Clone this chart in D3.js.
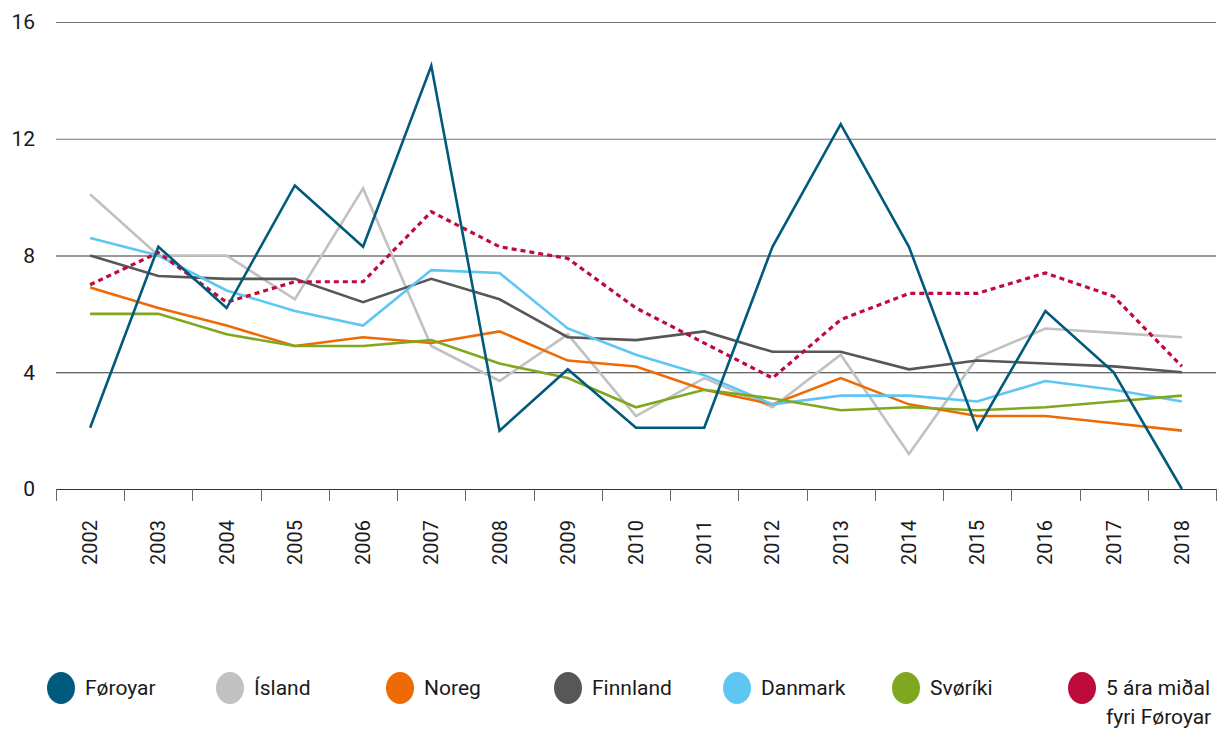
<!DOCTYPE html>
<html>
<head>
<meta charset="utf-8">
<script src="https://cdn.jsdelivr.net/npm/d3@7"></script>
<style>
  body { margin: 0; background: #fff; }
  text { font-family: Roboto, "Noto Sans", sans-serif; fill: #1a1a1a; }
</style>
</head>
<body>
<script>
// data
var years = ["2002","2003","2004","2005","2006","2007","2008","2009","2010","2011","2012","2013","2014","2015","2016","2017","2018"]
var foroyar  = [2.1, 8.3, 6.2, 10.4, 8.3, 14.5, 2.0, 4.1, 2.1, 2.1, 8.3, 12.5, 8.3, 2.05, 6.1, 4.0, 0]
var island   = [10.1, 8.0, 8.0, 6.5, 10.3, 4.9, 3.7, 5.3, 2.5, 3.8, 2.8, 4.6, 1.2, 4.5, 5.5, 5.35, 5.2]
var noreg    = [6.9, 6.2, 5.6, 4.9, 5.2, 5.0, 5.4, 4.4, 4.2, 3.4, 2.9, 3.8, 2.9, 2.5, 2.5, 2.25, 2.0]
var finnland = [8.0, 7.3, 7.2, 7.2, 6.4, 7.2, 6.5, 5.2, 5.1, 5.4, 4.7, 4.7, 4.1, 4.4, 4.3, 4.2, 4.0]
var danmark  = [8.6, 8.0, 6.8, 6.1, 5.6, 7.5, 7.4, 5.5, 4.6, 3.9, 2.9, 3.2, 3.2, 3.0, 3.7, 3.4, 3.0]
var svoriki  = [6.0, 6.0, 5.3, 4.9, 4.9, 5.1, 4.3, 3.8, 2.8, 3.4, 3.1, 2.7, 2.8, 2.7, 2.8, 3.0, 3.2]
var midal    = [7.0, 8.1, 6.4, 7.1, 7.1, 9.5, 8.3, 7.9, 6.2, 5.0, 3.8, 5.8, 6.7, 6.7, 7.4, 6.6, 4.2]
var yTicks = [0, 4, 8, 12, 16]

var series = [
  {name: "Føroyar", values: foroyar, color: "#005a7b"},
  {name: "Ísland", values: island, color: "#c0c1c0"},
  {name: "Noreg", values: noreg, color: "#ee6a04"},
  {name: "Finnland", values: finnland, color: "#575757"},
  {name: "Danmark", values: danmark, color: "#5ec6f2"},
  {name: "Svøríki", values: svoriki, color: "#80a720"},
  {name: "5 ára miðal", name2: "fyri Føroyar", values: midal, color: "#bf0a3c", dotted: true}
]
// draw order: same as the picture (Føroyar on top of most)
var drawOrder = [1, 2, 3, 4, 5, 6, 0]

var margin = {top: 22, right: 16, bottom: 240, left: 56}
var width = 1232 - margin.left - margin.right
var height = 729 - margin.top - margin.bottom

var x = d3.scaleBand().domain(years).range([0, width])
var y = d3.scaleLinear().domain([0, 16]).range([height, 0])

var svg = d3.select("body").append("svg").attr("width", 1232).attr("height", 729)
var main = svg.append("g").attr("transform", "translate(" + margin.left + "," + margin.top + ")")

// gridlines
main.append("g").selectAll("line").data(yTicks.filter(function(d) { return d > 0 })).enter().append("line")
  .attr("x1", 0).attr("x2", width)
  .attr("y1", function(d) { return y(d) + 0.5 }).attr("y2", function(d) { return y(d) + 0.5 })
  .attr("stroke", function(d) { return d >= 12 ? "#777" : "#333" }).attr("stroke-width", 1)

// y labels
main.append("g").selectAll("text").data(yTicks).enter().append("text")
  .attr("x", -21).attr("y", function(d) { return y(d) })
  .attr("dy", "0.35em").attr("text-anchor", "end").style("font-size", "21px")
  .text(function(d) { return d })

// x axis
var xAxis = d3.axisBottom(x).tickSize(12).tickFormat("")
var xg = main.append("g").attr("transform", "translate(0," + height + ")").call(xAxis)
xg.select(".domain").attr("stroke", "#333")
xg.selectAll(".tick").remove()
var tickPos = years.map(function(d) { return x(d) }).concat([width])
xg.selectAll("line.tk").data(tickPos).enter().append("line").attr("class", "tk")
  .attr("x1", function(d) { return Math.round(d) + 0.5 }).attr("x2", function(d) { return Math.round(d) + 0.5 })
  .attr("y1", 0).attr("y2", 12).attr("stroke", "#666")
xg.selectAll("text.yr").data(years).enter().append("text").attr("class", "yr")
  .attr("transform", function(d) { return "translate(" + (x(d) + x.bandwidth() / 2) + ",31) rotate(-90)" })
  .attr("text-anchor", "end").attr("dy", "0.35em").style("font-size", "20px")
  .text(function(d) { return d })

// lines
var line = d3.line()
  .x(function(d, i) { return x(years[i]) + x.bandwidth() / 2 })
  .y(function(d) { return y(d) })

drawOrder.forEach(function(k) {
  var s = series[k]
  main.append("path").datum(s.values)
    .attr("fill", "none").attr("stroke", s.color)
    .attr("stroke-width", s.dotted ? 3.2 : 2.6)
    .attr("stroke-dasharray", s.dotted ? "5,4" : null)
    .attr("stroke-linejoin", "miter")
    .attr("d", line)
})

// legend
var legX = [61, 230, 400, 568, 737, 906, 1082]
var leg = svg.append("g").selectAll("g").data(series).enter().append("g")
  .attr("transform", function(d, i) { return "translate(" + legX[i] + ",688)" })
leg.append("ellipse").attr("rx", 14).attr("ry", 16).attr("fill", function(d) { return d.color })
leg.append("text").attr("x", 24).attr("y", 7).style("font-size", "21px").text(function(d) { return d.name })
leg.filter(function(d) { return d.name2 }).append("text").attr("x", 24).attr("y", 36).style("font-size", "21px").text(function(d) { return d.name2 })
</script>
</body>
</html>
